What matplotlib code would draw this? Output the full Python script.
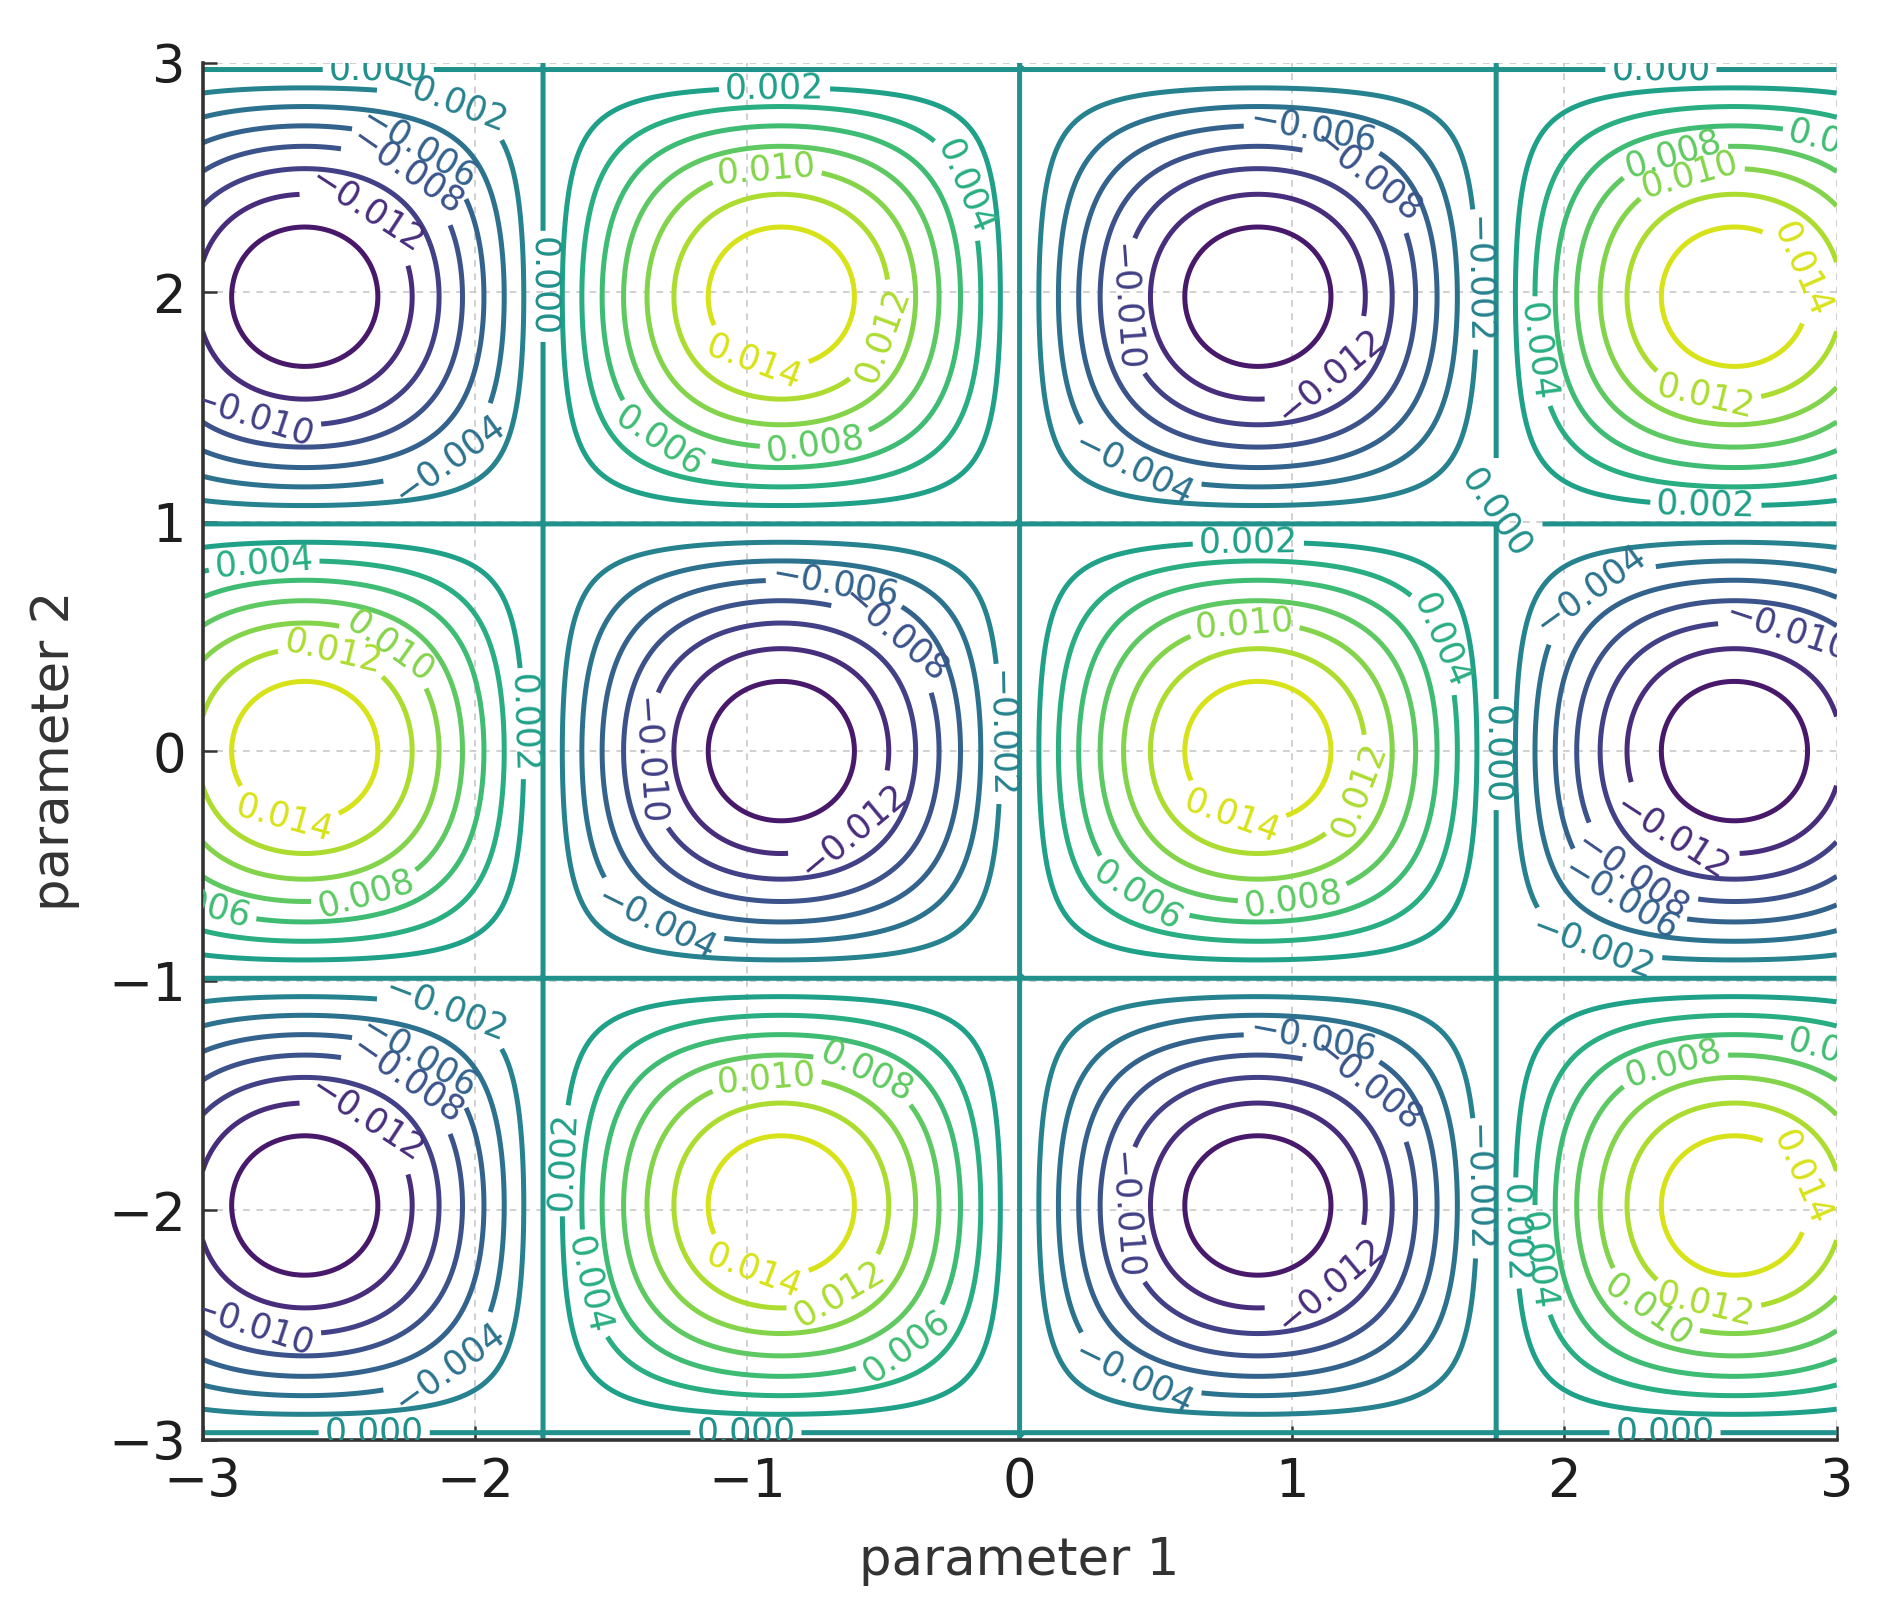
import numpy as np
import matplotlib
matplotlib.use("Agg")
import matplotlib.pyplot as plt

# ---- data ----
amplitude = 0.0158         # peak value of the field
x_half_period = 1.75       # spacing of zero lines along parameter 1
y_half_period = 1.98       # spacing of zero lines along parameter 2
x_limits = [-3, 3]
y_limits = [-3, 3]
levels = [-0.014, -0.012, -0.010, -0.008, -0.006, -0.004, -0.002, 0.000,
          0.002, 0.004, 0.006, 0.008, 0.010, 0.012, 0.014]
color_limits = [-0.016, 0.016]
x_ticks = [-3, -2, -1, 0, 1, 2, 3]
y_ticks = [-3, -2, -1, 0, 1, 2, 3]
x_label = "parameter 1"
y_label = "parameter 2"

# ---- field ----
x = np.linspace(x_limits[0], x_limits[1], 401)
y = np.linspace(y_limits[0], y_limits[1], 401)
X, Y = np.meshgrid(x, y)
Z = amplitude * np.sin(np.pi * X / x_half_period) * np.cos(np.pi * Y / y_half_period)

fig = plt.figure(figsize=(18.92, 16.02), dpi=100)
ax = fig.add_axes([0.1071, 0.1014, 0.8636, 0.8595])

cs = ax.contour(X, Y, Z, levels=levels, cmap="viridis", linewidths=3.6,
                vmin=color_limits[0], vmax=color_limits[1])


def fmt(v):
    v = round(v, 3) + 0.0
    return f"{v:.3f}".replace("-", "\u2212")


ax.clabel(cs, inline=True, fontsize=25, fmt=fmt, inline_spacing=6)

ax.set_xlim(x_limits)
ax.set_ylim(y_limits)
ax.set_xticks(x_ticks)
ax.set_yticks(y_ticks)
ax.set_xticklabels([f"{t}".replace("-", "\u2212") for t in x_ticks])
ax.set_yticklabels([f"{t}".replace("-", "\u2212") for t in y_ticks])

ax.grid(True, color="#c8c8c8", linestyle=(0, (4, 4)), linewidth=1.2)
ax.set_axisbelow(True)

for side in ["top", "right"]:
    ax.spines[side].set_visible(False)
for side in ["left", "bottom"]:
    ax.spines[side].set_color("#333333")
    ax.spines[side].set_linewidth(2.6)

ax.tick_params(direction="in", length=10, width=1.8, color="#333333",
               labelsize=38, labelcolor="#1e1e1e", pad=12,
               top=False, right=False)

ax.set_xlabel(x_label, fontsize=37, color="#333333", labelpad=20)
ax.set_ylabel(y_label, fontsize=37, color="#333333", labelpad=20)

fig.savefig("out.png", dpi=100, facecolor="white")
